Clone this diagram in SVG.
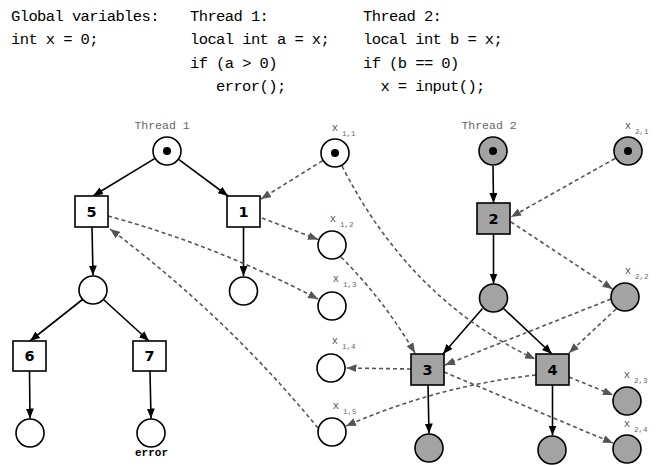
<svg xmlns="http://www.w3.org/2000/svg" width="656" height="466" viewBox="0 0 656 466">
<style>
.hdr{font-family:"Liberation Mono","DejaVu Sans Mono",monospace;font-size:15.5px;letter-spacing:-0.6px;fill:#000}
.tl{font-family:"Liberation Mono","DejaVu Sans Mono",monospace;font-size:11.5px;fill:#666;text-anchor:middle}
.xl{font-family:"Liberation Mono","DejaVu Sans Mono",monospace;font-size:10.5px;fill:#555;text-anchor:middle}
.xs{font-family:"Liberation Mono","DejaVu Sans Mono",monospace;font-size:7.5px;fill:#666}
.num{font-family:"DejaVu Sans",sans-serif;font-weight:bold;font-size:14.5px;fill:#000;text-anchor:middle}
.err{font-family:"Liberation Mono","DejaVu Sans Mono",monospace;font-weight:bold;font-size:11px;fill:#000;text-anchor:middle}
.p{fill:#fff;stroke:#000;stroke-width:1.6}
.g{fill:#a3a3a3;stroke:#000;stroke-width:1.6}
.b{fill:#fff;stroke:#000;stroke-width:1.6}
.bg{fill:#a3a3a3;stroke:#000;stroke-width:1.6}
.dot{fill:#000}
.s{fill:none;stroke:#000;stroke-width:1.6;marker-end:url(#ah)}
.d{fill:none;stroke:#555;stroke-width:1.6;stroke-dasharray:4 3;marker-end:url(#ahg)}
</style>
<defs>
<marker id="ah" markerUnits="userSpaceOnUse" markerWidth="10" markerHeight="8" refX="10" refY="4" orient="auto"><path d="M0,0 L10,4 L0,8 z" fill="#000"/></marker>
<marker id="ahg" markerUnits="userSpaceOnUse" markerWidth="10" markerHeight="8" refX="10" refY="4" orient="auto"><path d="M0,0 L10,4 L0,8 z" fill="#555"/></marker>
</defs>

<g id="code">
<text class="hdr" x="11" y="21">Global variables:</text>
<text class="hdr" x="11" y="44.3">int x = 0;</text>
<text class="hdr" x="190" y="21">Thread 1:</text>
<text class="hdr" x="190" y="44.3">local int a = x;</text>
<text class="hdr" x="190" y="67.6">if (a &gt; 0)</text>
<text class="hdr" x="216" y="90.9">error();</text>
<text class="hdr" x="363" y="21">Thread 2:</text>
<text class="hdr" x="363" y="44.3">local int b = x;</text>
<text class="hdr" x="363" y="67.6">if (b == 0)</text>
<text class="hdr" x="380.4" y="90.9">x = input();</text>
</g>

<g id="connectors">
<path class="s" d="M154.6,158.6 L93,196"/>
<path class="s" d="M179,159.6 L228,196"/>
<path class="s" d="M92,227 L93,275.5"/>
<path class="s" d="M243.5,227 L243.5,276"/>
<path class="s" d="M82.5,299.5 L30,341"/>
<path class="s" d="M103.5,299.5 L149,341"/>
<path class="s" d="M29.5,371 L30,418.5"/>
<path class="s" d="M150,371 L151,418.5"/>
<path class="s" d="M493,166 L493.5,203"/>
<path class="s" d="M493.5,234 L493.5,283.5"/>
<path class="s" d="M482.5,308.5 L443,354"/>
<path class="s" d="M503.5,308.5 L552,354"/>
<path class="s" d="M428,385 L429,433.5"/>
<path class="s" d="M552.5,385 L552.5,435.5"/>

<path class="d" d="M322.5,160.7 L261,199"/>
<path class="d" d="M262,218 L318,239.5"/>
<path class="d" d="M342,166 Q410,300 535,359"/>
<path class="d" d="M341,257 Q384,300 415,353"/>
<path class="d" d="M108,216 Q215,245 318,299"/>
<path class="d" d="M318,428 Q226,316 110,229"/>
<path class="d" d="M615,158.5 L511,217"/>
<path class="d" d="M511,222 L612.5,289"/>
<path class="d" d="M611,299 L445,365"/>
<path class="d" d="M616,309 L569,353"/>
<path class="d" d="M411,369 L346.5,368"/>
<path class="d" d="M536,375 Q437,386 346,426"/>
<path class="d" d="M569,377 L613,395"/>
<path class="d" d="M444,372 L613,443"/>
</g>

<g id="t1start"><text class="tl" x="162" y="129">Thread 1</text><circle class="p" cx="167" cy="151" r="14"/><circle class="dot" cx="167" cy="151" r="4"/></g>
<g id="n5"><rect class="b" x="75" y="196" width="33" height="31"/><text class="num" x="91.5" y="216.5">5</text></g>
<g id="n1"><rect class="b" x="227" y="196" width="33" height="31"/><text class="num" x="243.5" y="216.5">1</text></g>
<g id="c5"><circle class="p" cx="93" cy="290" r="14"/></g>
<g id="c1"><circle class="p" cx="243.5" cy="291" r="14"/></g>
<g id="n6"><rect class="b" x="13" y="341" width="33" height="30"/><text class="num" x="29.5" y="361">6</text></g>
<g id="n7"><rect class="b" x="133" y="341" width="33" height="30"/><text class="num" x="149.5" y="361">7</text></g>
<g id="c6"><circle class="p" cx="30" cy="433" r="14"/></g>
<g id="c7"><circle class="p" cx="151" cy="433" r="14"/><text class="err" x="151.5" y="456">error</text></g>

<g id="x11"><text class="xl" x="335" y="131">x</text><text class="xs" x="342" y="136">1,1</text><circle class="p" cx="335" cy="153" r="14"/><circle class="dot" cx="335" cy="153" r="4"/></g>
<g id="x12"><text class="xl" x="333" y="222">x</text><text class="xs" x="340" y="227">1,2</text><circle class="p" cx="332" cy="245" r="14"/></g>
<g id="x13"><text class="xl" x="336" y="282">x</text><text class="xs" x="343" y="287">1,3</text><circle class="p" cx="332" cy="306" r="14"/></g>
<g id="x14"><text class="xl" x="335" y="344">x</text><text class="xs" x="342" y="349">1,4</text><circle class="p" cx="331" cy="368" r="14"/></g>
<g id="x15"><text class="xl" x="336" y="409">x</text><text class="xs" x="343" y="414">1,5</text><circle class="p" cx="332" cy="432" r="14"/></g>

<g id="t2start"><text class="tl" x="489" y="129">Thread 2</text><circle class="g" cx="493" cy="151" r="14"/><circle class="dot" cx="493" cy="151" r="4"/></g>
<g id="x21"><text class="xl" x="628" y="129">x</text><text class="xs" x="635" y="134">2,1</text><circle class="g" cx="628" cy="151" r="14"/><circle class="dot" cx="628" cy="151" r="4"/></g>
<g id="n2"><rect class="bg" x="477" y="203" width="33" height="31"/><text class="num" x="493.5" y="223.5">2</text></g>
<g id="c2"><circle class="g" cx="493.5" cy="298" r="14"/></g>
<g id="x22"><text class="xl" x="628" y="274">x</text><text class="xs" x="635" y="279">2,2</text><circle class="g" cx="625" cy="297" r="14"/></g>
<g id="n3"><rect class="bg" x="411" y="354" width="33" height="31"/><text class="num" x="427.5" y="374.5">3</text></g>
<g id="n4"><rect class="bg" x="536" y="354" width="33" height="31"/><text class="num" x="552.5" y="374.5">4</text></g>
<g id="c3"><circle class="g" cx="429" cy="448" r="14"/></g>
<g id="c4"><circle class="g" cx="552" cy="450" r="14"/></g>
<g id="x23"><text class="xl" x="627" y="378">x</text><text class="xs" x="634" y="383">2,3</text><circle class="g" cx="627" cy="401" r="14"/></g>
<g id="x24"><text class="xl" x="627" y="427">x</text><text class="xs" x="634" y="432">2,4</text><circle class="g" cx="627" cy="449" r="14"/></g>
</svg>
